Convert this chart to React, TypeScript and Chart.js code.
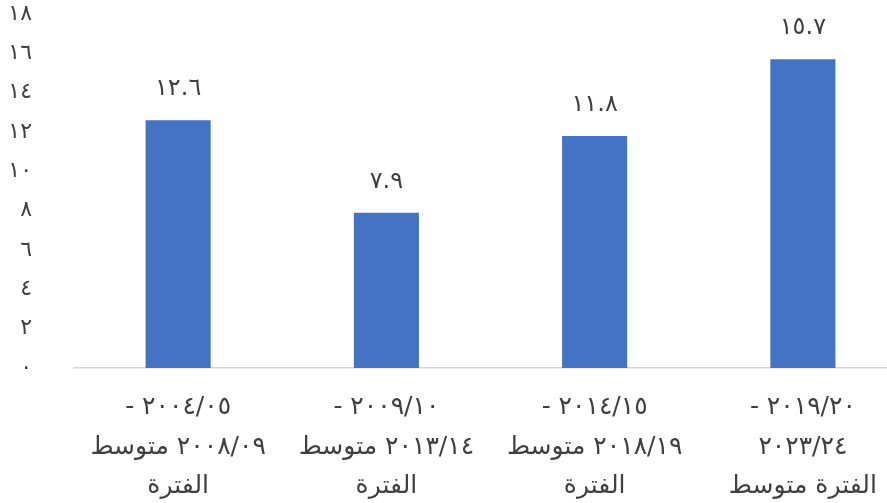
import React, { useEffect, useRef } from 'react';
import { Chart, registerables } from 'chart.js';

Chart.register(...registerables);

const LRM = '\u200E';

// Category labels (multi-line, as shown)
const categories: string[][] = [
  [LRM + '- ٢٠٠٤/٠٥', 'متوسط' + LRM + ' ٢٠٠٨/٠٩', 'الفترة'],
  [LRM + '- ٢٠٠٩/١٠', 'متوسط' + LRM + ' ٢٠١٣/١٤', 'الفترة'],
  [LRM + '- ٢٠١٤/١٥', 'متوسط' + LRM + ' ٢٠١٨/١٩', 'الفترة'],
  [LRM + '- ٢٠١٩/٢٠', '٢٠٢٣/٢٤', 'متوسط' + LRM + ' الفترة'],
];

// Series values
const values: number[] = [12.6, 7.9, 11.8, 15.7];

// Y axis range
const yMin = 0;
const yMax = 18;
const yStep = 2;

const arabicDigits = ['٠', '١', '٢', '٣', '٤', '٥', '٦', '٧', '٨', '٩'];
const toArabic = (s: string) => s.replace(/[0-9]/g, (d) => arabicDigits[Number(d)]);

const FONT = '"DejaVu Sans", sans-serif';
const TEXT = '#404040';

const dataLabelPlugin = {
  id: 'dataLabels',
  afterDatasetsDraw(chart: any) {
    const { ctx } = chart;
    const meta = chart.getDatasetMeta(0);
    ctx.save();
    ctx.font = `24px ${FONT}`;
    ctx.fillStyle = TEXT;
    ctx.textAlign = 'center';
    ctx.textBaseline = 'middle';
    meta.data.forEach((bar: any, i: number) => {
      const v = chart.data.datasets[0].data[i] as number;
      ctx.fillText(toArabic(v.toFixed(1)), bar.x, bar.y - 31);
    });
    ctx.restore();
  },
};

export default function App() {
  const ref = useRef<HTMLCanvasElement | null>(null);

  useEffect(() => {
    if (!ref.current) return;
    const chart = new Chart(ref.current, {
      type: 'bar',
      data: {
        labels: categories,
        datasets: [
          {
            data: values,
            backgroundColor: '#4472C4',
            borderWidth: 0,
            categoryPercentage: 1,
            barPercentage: 0.3125,
          },
        ],
      },
      options: {
        responsive: false,
        animation: false,
        maintainAspectRatio: false,
        layout: { padding: { top: 14, right: 0, left: 0, bottom: 0 } },
        plugins: {
          legend: { display: false },
          tooltip: { enabled: false },
        },
        scales: {
          x: {
            offset: true,
            grid: { display: false, drawTicks: false },
            border: { display: true, color: '#d6d6d6', width: 1.5 },
            ticks: {
              autoSkip: false,
              maxRotation: 0,
              minRotation: 0,
              padding: 20,
              color: TEXT,
              font: { family: FONT, size: 25, lineHeight: '39.5px' },
            },
            afterFit: (scale: any) => {
              scale.height = 135;
            },
          },
          y: {
            min: yMin,
            max: yMax,
            grid: { display: false, drawTicks: false },
            border: { display: false },
            ticks: {
              stepSize: yStep,
              padding: 42,
              color: TEXT,
              font: { family: FONT, size: 22 },
              callback: (v: any) => toArabic(String(v)),
            },
            afterFit: (scale: any) => {
              scale.width = 74;
              scale.paddingTop = 0;
              scale.paddingBottom = 0;
            },
          },
        },
      },
      plugins: [dataLabelPlugin],
    });
    return () => chart.destroy();
  }, []);

  return (
    <div
      style={{
        position: 'fixed',
        left: 0,
        top: 0,
        width: 887,
        height: 503,
        overflow: 'hidden',
        background: '#fff',
      }}
    >
      <canvas
        ref={ref}
        width={907}
        height={503}
        style={{ display: 'block', width: 907, height: 503, direction: 'ltr' }}
      />
    </div>
  );
}
